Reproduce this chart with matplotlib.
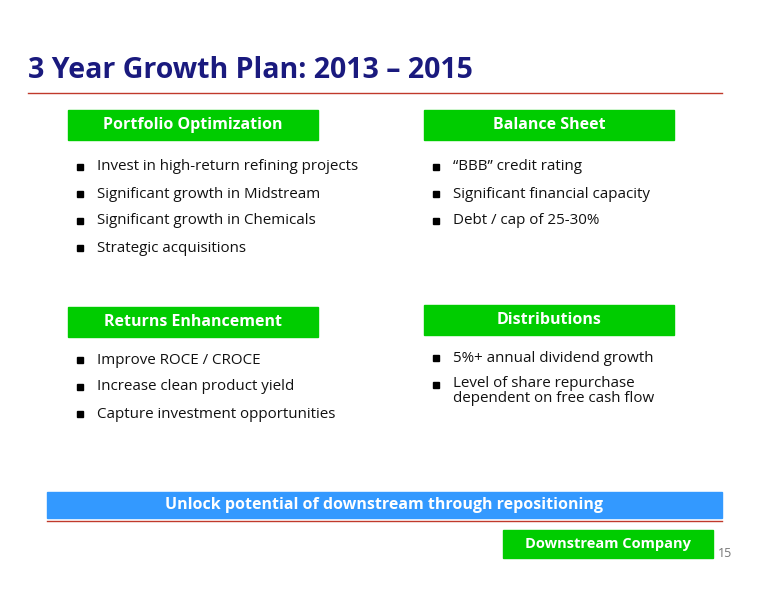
import matplotlib.pyplot as plt
from matplotlib.patches import Rectangle

plt.rcParams["font.family"] = ["Open Sans", "DejaVu Sans"]

TITLE = "3 Year Growth Plan: 2013 \u2013 2015"
HEADERS = ["Portfolio Optimization", "Balance Sheet", "Returns Enhancement", "Distributions"]
BULLETS = [
    ["Invest in high-return refining projects", "Significant growth in Midstream",
     "Significant growth in Chemicals", "Strategic acquisitions"],
    ["\u201cBBB\u201d credit rating", "Significant financial capacity", "Debt / cap of 25-30%"],
    ["Improve ROCE / CROCE", "Increase clean product yield", "Capture investment opportunities"],
    ["5%+ annual dividend growth", "Level of share repurchase\ndependent on free cash flow"],
]
BANNER = "Unlock potential of downstream through repositioning"
FOOTER = "Downstream Company"
PAGE = "15"

GREEN = "#00CC00"
NAVY = "#1A1A7E"
RED = "#C0392B"

fig = plt.figure(figsize=(7.76, 6.0), dpi=100)
ax = fig.add_axes([0, 0, 1, 1])
ax.set_xlim(0, 776)
ax.set_ylim(600, 0)
ax.axis("off")

ax.text(28, 78, TITLE, fontsize=20.5, fontweight="bold", color=NAVY, va="baseline")
ax.plot([28, 722], [93, 93], color=RED, lw=1)

# box (x, y) top-left for each section, plus bullet start y
boxes = [(68, 110, 167), (424, 110, 167), (68, 307, 360), (424, 305, 358)]
for (bx, by, ty), head, items in zip(boxes, HEADERS, BULLETS):
    ax.add_patch(Rectangle((bx, by), 250, 30, color=GREEN))
    ax.text(bx + 125, by + 15, head, fontsize=11.5, fontweight="bold", color="white",
            ha="center", va="center")
    y = ty
    for item in items:
        ax.plot(bx + 12, y, marker="s", ms=4.5, color="black")
        if "\n" in item:
            ax.text(bx + 29, y - 9, item, fontsize=10.9, va="top", color="#111111",
                    linespacing=1.0)
        else:
            ax.text(bx + 29, y, item, fontsize=10.9, va="center", color="#111111")
        y += 27

ax.add_patch(Rectangle((47, 492), 675, 26, color="#3399FF"))
ax.text(384, 505, BANNER, fontsize=11.5, fontweight="bold", color="white", ha="center", va="center")
ax.plot([47, 722], [521, 521], color=RED, lw=1)

ax.add_patch(Rectangle((503, 530), 210, 28, color=GREEN))
ax.text(608, 544, FOOTER, fontsize=10.5, fontweight="bold", color="white", ha="center", va="center")
ax.text(718, 557, PAGE, fontsize=9, color="#777777", va="baseline")

fig.savefig("out.png", dpi=100)
